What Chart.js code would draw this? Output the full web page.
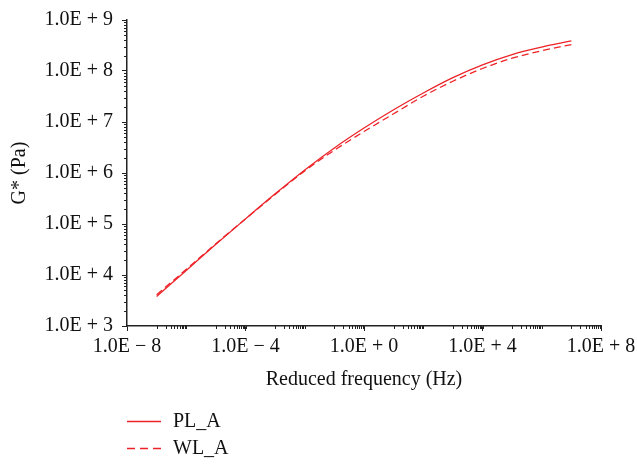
<!DOCTYPE html>
<html>
<head>
<meta charset="utf-8">
<script src="https://cdn.jsdelivr.net/npm/chart.js@4/dist/chart.umd.min.js"></script>
<style>
  html, body { margin: 0; padding: 0; background: #fff; }
</style>
</head>
<body>
<canvas id="gstar" width="637" height="464"></canvas>
<script>
// reduced frequency (Hz), one point per decade
const frequencies = [1e-7, 1e-6, 1e-5, 1e-4, 1e-3, 1e-2, 1e-1, 1, 1e1, 1e2, 1e3, 1e4, 1e5, 1e6, 1e7];
// G* (Pa)
const plA = [3.8e3, 1.23e4, 4.0e4, 1.26e5, 3.9e5, 1.15e6, 3.1e6, 7.6e6, 1.74e7, 3.7e7, 7.4e7, 1.32e8, 2.1e8, 2.95e8, 3.9e8];
const wlA = [4.1e3, 1.29e4, 4.1e4, 1.26e5, 3.8e5, 1.1e6, 2.8e6, 6.5e6, 1.45e7, 3.2e7, 6.3e7, 1.12e8, 1.78e8, 2.5e8, 3.3e8];

const xTickValues = [1e-8, 1e-4, 1, 1e4, 1e8];
const xTickLabels = ['1.0E \u2212 8', '1.0E \u2212 4', '1.0E + 0', '1.0E + 4', '1.0E + 8'];
const yTickValues = [1e3, 1e4, 1e5, 1e6, 1e7, 1e8, 1e9];
const yTickLabels = ['1.0E + 3', '1.0E + 4', '1.0E + 5', '1.0E + 6', '1.0E + 7', '1.0E + 8', '1.0E + 9'];

const red = 'rgb(237, 35, 40)';
const axisColor = '#222';
const serif = 'Liberation Serif';

// small log ticks drawn outside the axes
const minorTicks = {
  id: 'minorTicks',
  afterDraw(chart) {
    const {ctx, chartArea, scales: {x, y}} = chart;
    ctx.save();
    ctx.strokeStyle = axisColor;
    ctx.lineWidth = 1;
    ctx.beginPath();
    for (let d = 3; d < 9; d++) {
      for (let n = 2; n <= 9; n++) {
        const py = Math.round(y.getPixelForValue(n * Math.pow(10, d))) + 0.5;
        ctx.moveTo(chartArea.left, py);
        ctx.lineTo(chartArea.left - 3, py);
      }
    }
    for (let e = -7; e <= 7; e += 2) {
      for (let n = 1; n <= 10; n++) {
        const px = Math.round(x.getPixelForValue(n * Math.pow(10, e))) + 0.5;
        ctx.moveTo(px, chartArea.bottom);
        ctx.lineTo(px, chartArea.bottom + 3);
      }
    }
    ctx.stroke();
    ctx.restore();
  }
};

// stacked legend under the axis title
const stackedLegend = {
  id: 'stackedLegend',
  afterDraw(chart) {
    const ctx = chart.ctx;
    const left = chart.chartArea.left;
    ctx.save();
    chart.data.datasets.forEach((ds, i) => {
      const yy = 421.5 + i * 27;
      ctx.strokeStyle = ds.borderColor;
      ctx.lineWidth = 1.3;
      ctx.setLineDash(ds.borderDash && ds.borderDash.length ? [8, 5] : []);
      ctx.beginPath();
      ctx.moveTo(left, yy);
      ctx.lineTo(left + 34, yy);
      ctx.stroke();
      ctx.fillStyle = '#111';
      ctx.font = '20px "' + serif + '"';
      ctx.textBaseline = 'middle';
      ctx.fillText(ds.label, left + 46, yy);
    });
    ctx.restore();
  }
};

new Chart(document.getElementById('gstar'), {
  type: 'line',
  data: {
    datasets: [
      {
        label: 'PL_A',
        data: frequencies.map((f, i) => ({x: f, y: plA[i]})),
        borderColor: red,
        borderWidth: 1.3,
        pointRadius: 0,
        cubicInterpolationMode: 'monotone',
      },
      {
        label: 'WL_A',
        data: frequencies.map((f, i) => ({x: f, y: wlA[i]})),
        borderColor: red,
        borderWidth: 1.3,
        borderDash: [7, 4],
        pointRadius: 0,
        cubicInterpolationMode: 'monotone',
      }
    ]
  },
  options: {
    responsive: false,
    animation: false,
    devicePixelRatio: 1,
    layout: { padding: {left: 0, right: 36, top: 20, bottom: 62} },
    scales: {
      x: {
        type: 'logarithmic',
        min: 1e-8,
        max: 1e8,
        afterBuildTicks: s => { s.ticks = xTickValues.map(v => ({value: v})); },
        afterFit: s => { s.height = 76; s.paddingLeft = 0; s.paddingRight = 0; },
        grid: { drawOnChartArea: false, tickLength: 5, color: axisColor },
        border: { color: axisColor, width: 1.5 },
        ticks: {
          autoSkip: false,
          maxRotation: 0,
          padding: 4,
          color: '#111',
          font: {family: serif, size: 20},
          callback: (v, i) => xTickLabels[i],
        },
        title: {
          display: true,
          text: 'Reduced frequency (Hz)',
          color: '#111',
          font: {family: serif, size: 20},
          padding: {top: 0, bottom: 10},
        },
      },
      y: {
        type: 'logarithmic',
        min: 1e3,
        max: 1e9,
        afterBuildTicks: s => { s.ticks = yTickValues.map(v => ({value: v})); },
        afterFit: s => { s.width = 127; s.paddingTop = 0; s.paddingBottom = 0; },
        grid: { drawOnChartArea: false, tickLength: 5, color: axisColor },
        border: { color: axisColor, width: 1.5 },
        ticks: {
          autoSkip: false,
          padding: 9,
          color: '#111',
          font: {family: serif, size: 20},
          callback: (v, i) => yTickLabels[i],
        },
        title: {
          display: true,
          text: 'G* (Pa)',
          color: '#111',
          font: {family: serif, size: 20},
          padding: {top: 8, bottom: 0},
        },
      },
    },
    plugins: {
      legend: { display: false },
      tooltip: { enabled: false },
    },
  },
  plugins: [minorTicks, stackedLegend],
});
</script>
</body>
</html>
